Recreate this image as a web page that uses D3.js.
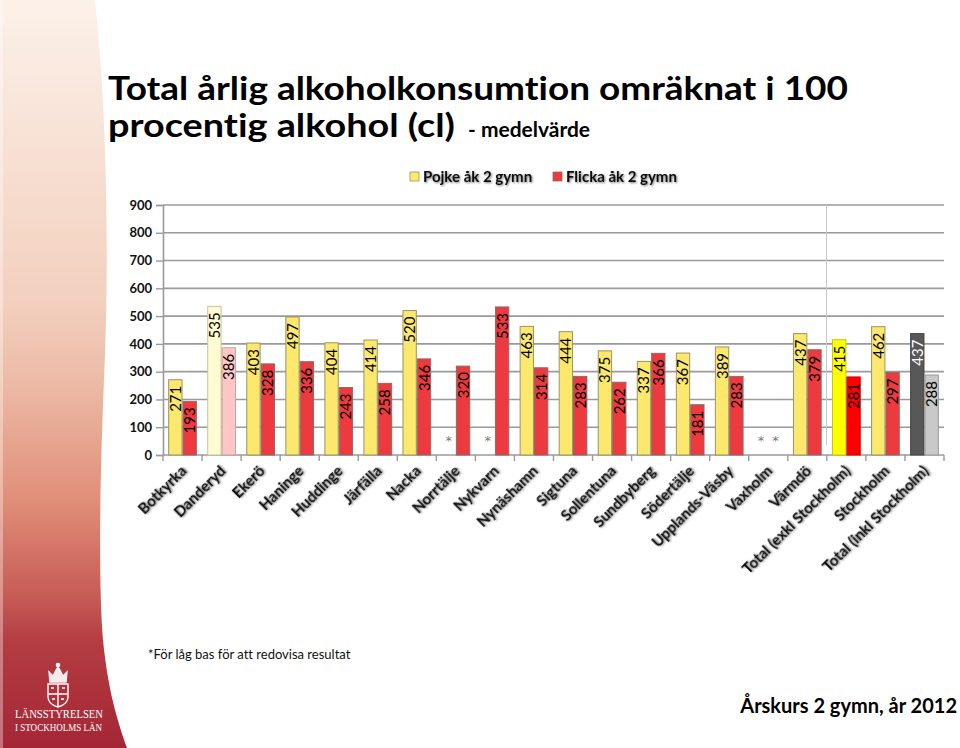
<!DOCTYPE html>
<html>
<head>
<meta charset="utf-8">
<script src="https://cdn.jsdelivr.net/npm/d3@7"></script>
<style>
  html, body { margin: 0; padding: 0; background: #fff; }
  svg { display: block; }
  text { font-variant-ligatures: none; }
</style>
</head>
<body>
<svg id="chart" width="960" height="748"></svg>
<script>
// ---------- DATA ----------
const categories = ["Botkyrka","Danderyd","Ekerö","Haninge","Huddinge","Järfälla","Nacka","Norrtälje","Nykvarn","Nynäshamn","Sigtuna","Sollentuna","Sundbyberg","Södertälje","Upplands-Väsby","Vaxholm","Värmdö","Total (exkl Stockholm)","Stockholm","Total (inkl Stockholm)"];
const pojke  = [271,535,403,497,404,414,520,null,null,463,444,375,337,367,389,null,437,415,462,437];
const flicka = [193,386,328,336,243,258,346,320,533,314,283,262,366,181,283,null,379,281,297,288];
const yTicks = [0,100,200,300,400,500,600,700,800,900];
const seriesNames = ["Pojke åk 2 gymn","Flicka åk 2 gymn"];
const titleLine1 = "Total årlig alkoholkonsumtion omräknat i 100";
const titleLine2 = "procentig alkohol (cl)";
const titleSub = "- medelvärde";
const footnote = "*För låg bas för att redovisa resultat";
const corner = "Årskurs 2 gymn, år 2012";

// ---------- STYLE ----------
const baseColors = { pojke: {fill:"#fbe86c", stroke:"#9c9466"}, flicka: {fill:"#ec3a3e", stroke:"#8e6a6a"} };
const specialColors = {
  "Danderyd": { pojke:{fill:"#fffbd2", stroke:"#c8c29a"}, flicka:{fill:"#ffc6c6", stroke:"#c8a0a0"} },
  "Total (exkl Stockholm)": { pojke:{fill:"#ffff00", stroke:"#c8c800"}, flicka:{fill:"#ff0000", stroke:"#cc0000"} },
  "Total (inkl Stockholm)": { pojke:{fill:"#585858", stroke:"#444", text:"#fff"}, flicka:{fill:"#c9c9c9", stroke:"#999"} }
};

const svg = d3.select("#chart");
const defs = svg.append("defs");

// left decorative band
const lg = defs.append("linearGradient").attr("id","sideGrad").attr("x1",0).attr("y1",0).attr("x2",0).attr("y2",1);
[[0,"#fcf1e9"],[0.4,"#f3d0bf"],[0.51,"#ecbba7"],[0.67,"#e08e78"],[0.8,"#c65a55"],[0.86,"#b33c42"],[1,"#a42635"]]
  .forEach(([o,c]) => lg.append("stop").attr("offset",o).attr("stop-color",c));
svg.append("path")
  .attr("d","M0,0 L95,0 C106,100 110,250 104,380 C99,500 99,590 103,640 C108,690 117,720 127,748 L0,748 Z")
  .attr("fill","url(#sideGrad)");
svg.append("rect").attr("x",0).attr("y",0).attr("width",3).attr("height",748).attr("fill","#fff").attr("opacity",0.35);

// emblem (simplified)
const em = svg.append("g").attr("fill","none").attr("stroke","#fff").attr("stroke-width",1.4);
em.append("path").attr("d","M50,682 L49,672 L53,676 L56,670 L58,667 L60,670 L63,676 L67,672 L66,682 Z").attr("fill","#fff").attr("opacity",0.9);
em.append("circle").attr("cx",58).attr("cy",665).attr("r",1.6).attr("fill","#fff");
em.append("path").attr("d","M48,684 L68,684 L68,697 Q68,704 58,707 Q48,704 48,697 Z");
em.append("path").attr("d","M58,684 L58,706 M48,694 L68,694");
em.append("path").attr("d","M51,688 l3,0 M62,688 l3,0 M52,699 l3,0 M61,699 l3,0").attr("stroke-width",1.6);
svg.append("text").attr("x",15).attr("y",718).attr("textLength",88).attr("lengthAdjust","spacingAndGlyphs")
  .attr("font-family","'Liberation Serif','DejaVu Serif',serif").attr("font-size",12).attr("fill","#fff").text("LÄNSSTYRELSEN");
svg.append("text").attr("x",15).attr("y",731).attr("textLength",87).attr("lengthAdjust","spacingAndGlyphs")
  .attr("font-family","'Liberation Serif','DejaVu Serif',serif").attr("font-size",9.5).attr("fill","#fff").text("I STOCKHOLMS LÄN");

// shadow filter
const f = defs.append("filter").attr("id","shadow").attr("x","-20%").attr("y","-20%").attr("width","140%").attr("height","160%");
f.append("feGaussianBlur").attr("in","SourceAlpha").attr("stdDeviation",0.9).attr("result","b");
f.append("feOffset").attr("in","b").attr("dx",1.2).attr("dy",1.2).attr("result","o");
f.append("feComponentTransfer").attr("in","o").attr("result","o2").append("feFuncA").attr("type","linear").attr("slope",0.55);
const fm = f.append("feMerge"); fm.append("feMergeNode").attr("in","o2"); fm.append("feMergeNode").attr("in","SourceGraphic");

// title
const font = "Lato, 'Open Sans', 'DejaVu Sans', sans-serif";
svg.append("text").attr("x",108).attr("y",100).attr("textLength",740).attr("lengthAdjust","spacingAndGlyphs")
  .attr("font-family",font).attr("font-weight","bold").attr("font-size",32).attr("fill","#000").text(titleLine1);
svg.append("text").attr("x",108).attr("y",137).attr("font-family",font).attr("font-weight","bold").attr("fill","#000")
  .attr("font-size",32).attr("textLength",347).attr("lengthAdjust","spacingAndGlyphs").text(titleLine2);
svg.append("text").attr("x",468).attr("y",137).attr("font-family",font).attr("font-weight","bold").attr("fill","#000")
  .attr("font-size",20).attr("textLength",122).attr("lengthAdjust","spacingAndGlyphs").text(titleSub);

// scales
const plotLeft = 163, plotRight = 944, plotTop = 205, plotBottom = 455;
const x = d3.scaleBand().domain(categories).range([plotLeft, plotRight]).paddingInner(0.265).paddingOuter(0.1325);
const xs = d3.scaleBand().domain(["pojke","flicka"]).range([0, x.bandwidth()]);
const y = d3.scaleLinear().domain([0,900]).range([plotBottom, plotTop]);

// gridlines
svg.append("g").selectAll("line").data(yTicks.filter(d=>d>0)).join("line")
  .attr("x1",plotLeft).attr("x2",plotRight).attr("y1",d=>y(d)).attr("y2",d=>y(d))
  .attr("stroke","#9a9a9a").attr("stroke-width",1.6);
// faint vertical line before total
svg.append("line").attr("x1",826.5).attr("x2",826.5).attr("y1",plotTop).attr("y2",445)
  .attr("stroke","#c8c8c8").attr("stroke-width",1);

// y axis
const yAxis = svg.append("g").attr("transform",`translate(${plotLeft},0)`)
  .call(d3.axisLeft(y).tickValues(yTicks).tickSize(7).tickPadding(4).tickFormat(d3.format("d")));
yAxis.select(".domain").attr("stroke","#9a9a9a").attr("stroke-width",1.6);
yAxis.selectAll(".tick line").attr("stroke","#9a9a9a").attr("stroke-width",1.4);
yAxis.selectAll(".tick text").attr("font-family",font).attr("font-weight","bold").attr("font-size",13).attr("fill","#111");

// x axis (boundary ticks)
const bounds = d3.range(categories.length+1).map(i => plotLeft + i*x.step());
svg.append("line").attr("x1",plotLeft).attr("x2",plotRight).attr("y1",plotBottom).attr("y2",plotBottom).attr("stroke","#9a9a9a").attr("stroke-width",1.6);
svg.append("g").selectAll("line").data(bounds).join("line")
  .attr("x1",d=>d).attr("x2",d=>d).attr("y1",plotBottom).attr("y2",plotBottom+6).attr("stroke","#9a9a9a").attr("stroke-width",1.4);

// bars
const rows = categories.map((c,i) => ({c, pojke:pojke[i], flicka:flicka[i]}));
const series = ["pojke","flicka"];
const g = svg.append("g");
rows.forEach(r => {
  series.forEach(s => {
    const v = r[s];
    const col = (specialColors[r.c] && specialColors[r.c][s]) || baseColors[s];
    const bx = x(r.c) + xs(s);
    const cx = bx + xs.bandwidth()/2;
    if (v == null) {
      g.append("text").attr("x",cx).attr("y",y(0)-10).attr("text-anchor","middle")
        .attr("font-family","'DejaVu Sans',sans-serif").attr("font-size",13).attr("fill","#777").text("*");
      return;
    }
    g.append("rect").attr("x",bx+0.5).attr("y",y(v)).attr("width",xs.bandwidth()-1).attr("height",y(0)-y(v))
      .attr("fill",col.fill).attr("stroke",col.stroke).attr("stroke-width",1);
    g.append("text")
      .attr("transform",`translate(${cx+5.5},${y(v)+6}) rotate(-90)`)
      .attr("text-anchor","end")
      .attr("font-family",font).attr("font-size",15).attr("fill",col.text || "#000")
      .text(v);
  });
});

// x labels
svg.append("g").selectAll("text").data(categories).join("text")
  .attr("transform",d=>`translate(${x(d)+x.bandwidth()/2+5},${plotBottom+17}) rotate(-45)`)
  .attr("text-anchor","end")
  .attr("font-family",font).attr("font-weight","bold").attr("font-size",15).attr("fill","#111")
  .attr("filter","url(#shadow)")
  .text(d=>d);

// legend
const leg = svg.append("g");
const legItems = [{name:seriesNames[0], col:baseColors.pojke, x:410},{name:seriesNames[1], col:baseColors.flicka, x:553}];
legItems.forEach(it => {
  leg.append("rect").attr("x",it.x).attr("y",172).attr("width",9).attr("height",9)
    .attr("fill",it.col.fill).attr("stroke",it.col.stroke).attr("stroke-width",0.8);
  leg.append("text").attr("x",it.x+13).attr("y",182).attr("font-family",font).attr("font-weight","bold")
    .attr("font-size",15).attr("fill","#111").attr("filter","url(#shadow)").text(it.name);
});

// footnote & corner text
svg.append("text").attr("x",148).attr("y",659).attr("font-family",font).attr("font-size",13).attr("fill","#111").text(footnote);
svg.append("text").attr("x",957).attr("y",713).attr("text-anchor","end").attr("font-family",font).attr("font-weight","bold")
  .attr("font-size",20).attr("fill","#000").text(corner);
</script>
</body>
</html>
